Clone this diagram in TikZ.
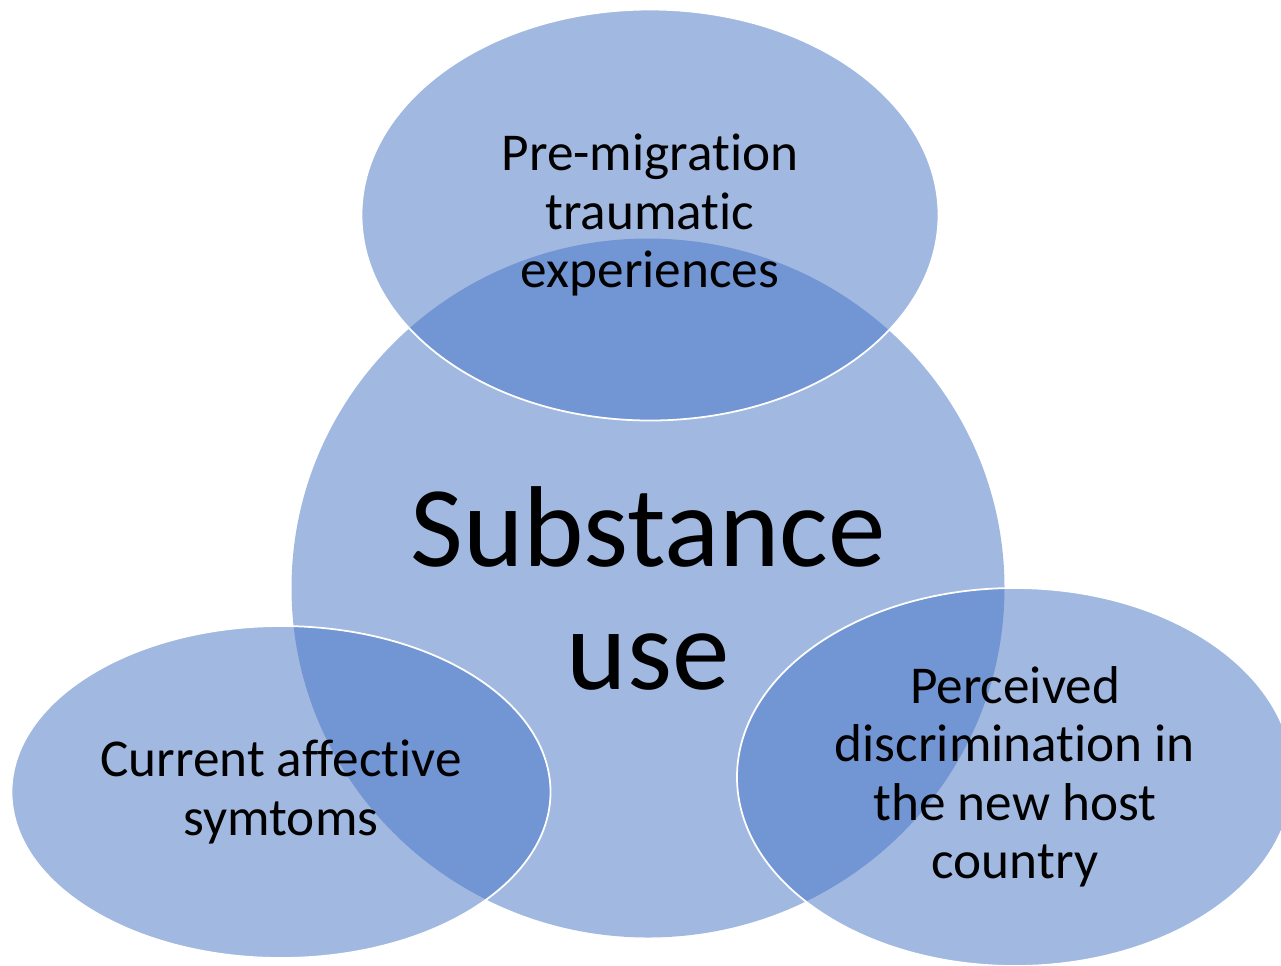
\documentclass[tikz,border=0pt]{standalone}
\usepackage{fontspec}
\setmainfont{Carlito}[Ligatures=NoCommon]
\usepackage{tikz}
\usetikzlibrary{positioning,shapes.geometric}

\definecolor{accent}{HTML}{4472C4}

\begin{document}
\begin{tikzpicture}[x=0.02cm,y=-0.02cm,
	every node/.style={ellipse,inner sep=0pt,align=center,fill=accent,
		fill opacity=.5,text opacity=1,text=black},
	rim/.style={draw=white,draw opacity=1,line width=1pt},
	small/.style={font=\fontsize{30.3}{33.3}\selectfont},
	big/.style={font=\fontsize{65.5}{70}\selectfont}]
		\useasboundingbox (0,0) rectangle (1281,965);

		%centre
		\node[big,minimum width=713*0.02cm,minimum height=699*0.02cm] (use) at (648,588) {Substance\\use};

		%outer ellipses
		\node[rim,small,minimum width=577*0.02cm,minimum height=411*0.02cm] (pre) at (650,215)
			{Pre-migration\\traumatic\\experiences};
		\node[rim,small,minimum width=539*0.02cm,minimum height=332*0.02cm] (aff) at (281,792)
			{Current affective\\symtoms};
		\node[rim,small,minimum width=556*0.02cm,minimum height=378*0.02cm] (disc) at (1015,777)
			{Perceived\\discrimination in\\the new host\\country};
	\end{tikzpicture}
\end{document}
